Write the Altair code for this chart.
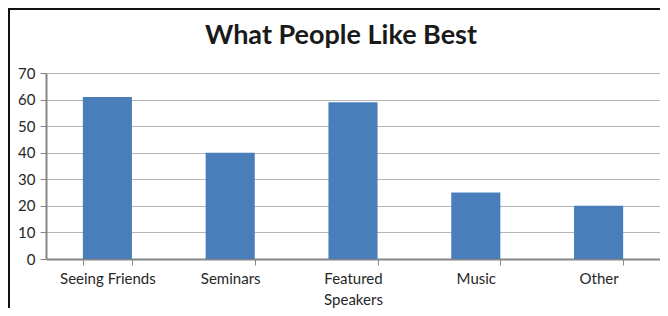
import altair as alt
import pandas as pd

categories = ["Seeing Friends", "Seminars", "Featured Speakers", "Music", "Other"]
values = [61, 40, 59, 25, 20]
y_ticks = [0, 10, 20, 30, 40, 50, 60, 70]

df = pd.DataFrame({"cat": categories, "val": values})

FONT = "Lato"
TXT = "#262626"

bars = alt.Chart(df).mark_bar(color="#4A7EBB").encode(
    x=alt.X("cat:N", sort=categories, title=None,
            scale=alt.Scale(paddingInner=0.6, paddingOuter=0.3),
            axis=alt.Axis(labelAngle=0, tickBand="extent", labelFont=FONT,
                          labelFontSize=15, labelColor=TXT, labelPadding=6,
                          tickSize=6, tickColor="#868686", domainColor="#868686",
                          domainWidth=2, labelLineHeight=21,
                          labelExpr="datum.value == 'Featured Speakers' ? ['Featured', 'Speakers'] : datum.value")),
    y=alt.Y("val:Q", title=None,
            scale=alt.Scale(domain=[0, 70], nice=False),
            axis=alt.Axis(values=y_ticks, labelFont=FONT, labelFontSize=15,
                          labelColor=TXT, labelPadding=5, tickSize=6,
                          tickColor="#868686", domainColor="#868686", domainWidth=2,
                          gridColor="#b5b5b5", gridWidth=1.2)),
)

frame_top = alt.Chart(df).mark_rule(color="#111111", strokeWidth=2, clip=False).encode(
    x=alt.value(-38), x2=alt.value(614), y=alt.value(-64)
)
frame_left = alt.Chart(df).mark_rule(color="#111111", strokeWidth=2, clip=False).encode(
    x=alt.value(-37), y=alt.value(-65), y2=alt.value(240)
)

chart = alt.layer(bars, frame_top, frame_left).properties(
    width=614, height=186,
    padding={"left": 38, "top": 65, "right": 0, "bottom": 49},
    autosize=alt.AutoSizeParams(type="none"),
    title=alt.TitleParams("What People Like Best", font=FONT, fontSize=27,
                          fontWeight="bold", color="#1a1a1a", anchor="middle",
                          dx=-12, offset=-43),
).configure_view(stroke=None).configure_axisX(grid=False)

chart.save("out.html", embed_options={"renderer": "svg", "actions": False})
